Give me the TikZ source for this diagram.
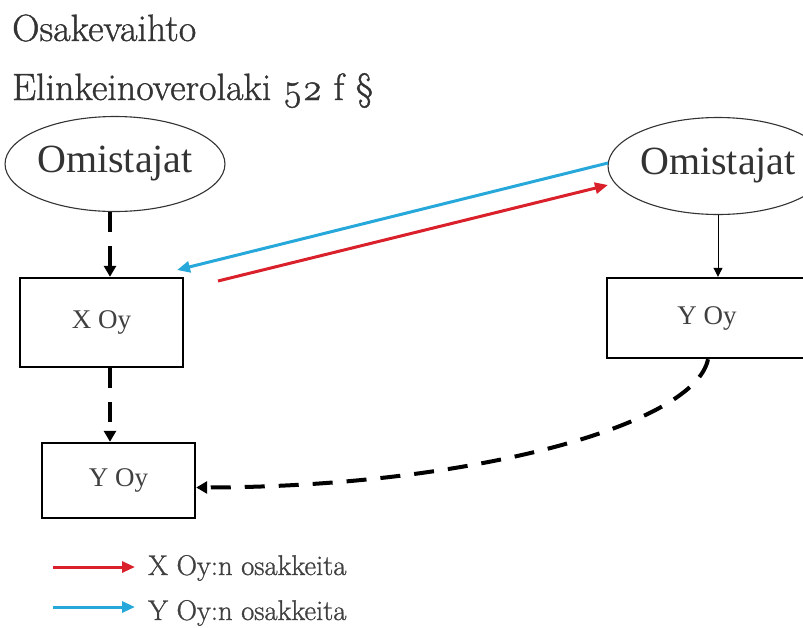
\documentclass[tikz,border=0pt]{standalone}
\usepackage{fontspec}
\newfontfamily\boxfont{Liberation Serif}
\newfontfamily\headfont{Latin Modern Roman}[FakeBold=1]
\usetikzlibrary{arrows.meta,shapes.geometric}
\definecolor{shareRed}{RGB}{218,32,42}
\definecolor{shareBlue}{RGB}{38,168,218}
\newcommand{\osnum}[1]{{\addfontfeature{Numbers=OldStyle}#1}}
\tikzset{
  owner/.style={ellipse,draw=black!80,line width=1.1pt,inner sep=0pt,
    font=\boxfont\fontsize{40}{40}\selectfont,text=black!80},
  company/.style={rectangle,draw=black,line width=2.4pt,inner sep=0pt,
    font=\boxfont\fontsize{27}{27}\selectfont,text=black!75},
  dasharrow/.style={line width=4pt,dash pattern=on 20pt off 14pt,
    -{Triangle[length=11pt,width=12pt]}},
  thinarrow/.style={line width=1pt,-{Triangle[length=9pt,width=9pt]}},
  sharearrow/.style={line width=3pt,-{Triangle[length=13pt,width=11pt]}},
  legendtext/.style={anchor=base west,inner sep=0pt,text=black!75,
    font=\headfont\fontsize{28.5}{28.5}\selectfont},
  heading/.style={anchor=base west,inner sep=0pt,text=black!80,
    font=\headfont\fontsize{38}{38}\selectfont}
}
\begin{document}
\begin{tikzpicture}[x=1pt,y=-1pt]
  \useasboundingbox (0,0) rectangle (803,627);
  \fill[white] (0,0) rectangle (803,627);

  % headings
  \node[heading] (title) at (12,41) {Osakevaihto};
  \node[heading] (law) at (12,100) {Elinkeinoverolaki \osnum{52} f \S};

  % owners and companies
  \node[owner,minimum width=164pt,minimum height=95pt] (ownL) at (115,164) {Omistajat};
  \node[owner,minimum width=172pt,minimum height=97pt] (ownR) at (718,166) {Omistajat};
  \node[company,minimum width=163pt,minimum height=89pt] (xoy) at (101.5,322.5) {X Oy};
  \node[company,minimum width=153pt,minimum height=75pt] (yoyL) at (118.5,480.5) {Y Oy};
  \node[company,minimum width=200pt,minimum height=80pt] (yoyR) at (707,318) {Y Oy};

  % ownership links
  \draw[dasharrow] ([xshift=8.5pt]xoy.north |- ownL.south) -- ([xshift=8.5pt]xoy.north);
  \draw[dasharrow] ([xshift=8.5pt]xoy.south) -- ([xshift=-8.5pt]yoyL.north);
  \draw[thinarrow] (ownR.south) -- (ownR.south |- yoyR.north);
  \draw[dasharrow] ([xshift=1pt]yoyR.south) .. controls (695,425) and (470,487) .. ([yshift=-7pt]yoyL.east);

  % share transfers
  \coordinate (bS) at (608,163);
  \coordinate (bE) at (177,270);
  \coordinate (rS) at (218,281);
  \coordinate (rE) at (608,185);
  \draw[sharearrow,shareBlue] (bS) -- (bE);
  \draw[sharearrow,shareRed] (rS) -- (rE);

  % legend
  \coordinate (l1a) at (53,567);
  \coordinate (l1b) at (135,567);
  \coordinate (l2a) at (53,607);
  \coordinate (l2b) at (135,607);
  \draw[sharearrow,shareRed] (l1a) -- (l1b);
  \draw[sharearrow,shareBlue] (l2a) -- (l2b);
  \node[legendtext] (lx) at (148,575) {X Oy:n osakkeita};
  \node[legendtext] (ly) at (148,620) {Y Oy:n osakkeita};
\end{tikzpicture}
\end{document}
